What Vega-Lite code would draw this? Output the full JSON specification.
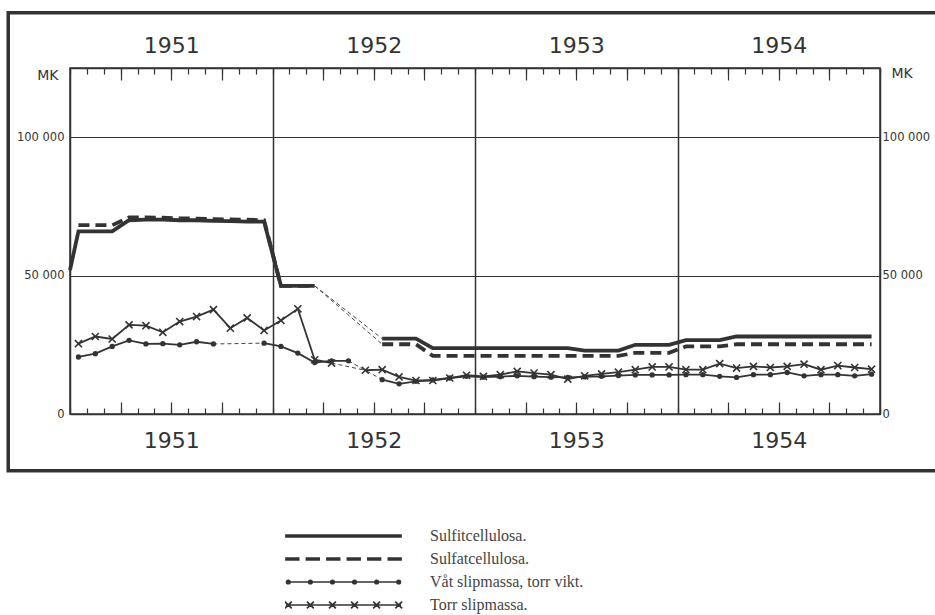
{
  "$schema": "https://vega.github.io/schema/vega-lite/v6.json",
  "width": 810,
  "height": 346,
  "autosize": {"type": "none"},
  "padding": {"left": 70, "top": 68, "right": 55, "bottom": 201},
  "background": "white",
  "config": {
    "view": {"stroke": "#333", "strokeWidth": 1.5},
    "axis": {"labelFont": "DejaVu Sans", "labelColor": "#333", "titleFont": "DejaVu Sans", "titleColor": "#333", "titleFontWeight": "normal", "domainColor": "#333", "domainWidth": 1.5}
  },
  "datasets": {
    "pulp": [
      {"serie": "Sulfitcellulosa.", "seg": "s1", "kind": "main", "month": 0, "value": 52000},
      {"serie": "Sulfitcellulosa.", "seg": "s1", "kind": "main", "month": 0.5, "value": 66000},
      {"serie": "Sulfitcellulosa.", "seg": "s1", "kind": "main", "month": 1.5, "value": 66000},
      {"serie": "Sulfitcellulosa.", "seg": "s1", "kind": "main", "month": 2.5, "value": 66000},
      {"serie": "Sulfitcellulosa.", "seg": "s1", "kind": "main", "month": 3.5, "value": 70000},
      {"serie": "Sulfitcellulosa.", "seg": "s1", "kind": "main", "month": 4.5, "value": 70200},
      {"serie": "Sulfitcellulosa.", "seg": "s1", "kind": "main", "month": 5.5, "value": 70200},
      {"serie": "Sulfitcellulosa.", "seg": "s1", "kind": "main", "month": 6.5, "value": 70000},
      {"serie": "Sulfitcellulosa.", "seg": "s1", "kind": "main", "month": 7.5, "value": 70000},
      {"serie": "Sulfitcellulosa.", "seg": "s1", "kind": "main", "month": 8.5, "value": 69800},
      {"serie": "Sulfitcellulosa.", "seg": "s1", "kind": "main", "month": 9.5, "value": 69700},
      {"serie": "Sulfitcellulosa.", "seg": "s1", "kind": "main", "month": 10.5, "value": 69500},
      {"serie": "Sulfitcellulosa.", "seg": "s1", "kind": "main", "month": 11.5, "value": 69500},
      {"serie": "Sulfitcellulosa.", "seg": "s1", "kind": "main", "month": 12.5, "value": 46300},
      {"serie": "Sulfitcellulosa.", "seg": "s1", "kind": "main", "month": 13.5, "value": 46300},
      {"serie": "Sulfitcellulosa.", "seg": "s1", "kind": "main", "month": 14.5, "value": 46300},
      {"serie": "Sulfitcellulosa.", "seg": "sg", "kind": "gap", "month": 14.5, "value": 46300},
      {"serie": "Sulfitcellulosa.", "seg": "sg", "kind": "gap", "month": 18.5, "value": 27200},
      {"serie": "Sulfitcellulosa.", "seg": "s2", "kind": "main", "month": 18.5, "value": 27200},
      {"serie": "Sulfitcellulosa.", "seg": "s2", "kind": "main", "month": 19.5, "value": 27200},
      {"serie": "Sulfitcellulosa.", "seg": "s2", "kind": "main", "month": 20.5, "value": 27200},
      {"serie": "Sulfitcellulosa.", "seg": "s2", "kind": "main", "month": 21.5, "value": 23800},
      {"serie": "Sulfitcellulosa.", "seg": "s2", "kind": "main", "month": 22.5, "value": 23800},
      {"serie": "Sulfitcellulosa.", "seg": "s2", "kind": "main", "month": 23.5, "value": 23800},
      {"serie": "Sulfitcellulosa.", "seg": "s2", "kind": "main", "month": 24.5, "value": 23800},
      {"serie": "Sulfitcellulosa.", "seg": "s2", "kind": "main", "month": 25.5, "value": 23800},
      {"serie": "Sulfitcellulosa.", "seg": "s2", "kind": "main", "month": 26.5, "value": 23800},
      {"serie": "Sulfitcellulosa.", "seg": "s2", "kind": "main", "month": 27.5, "value": 23800},
      {"serie": "Sulfitcellulosa.", "seg": "s2", "kind": "main", "month": 28.5, "value": 23800},
      {"serie": "Sulfitcellulosa.", "seg": "s2", "kind": "main", "month": 29.5, "value": 23800},
      {"serie": "Sulfitcellulosa.", "seg": "s2", "kind": "main", "month": 30.5, "value": 22900},
      {"serie": "Sulfitcellulosa.", "seg": "s2", "kind": "main", "month": 31.5, "value": 22900},
      {"serie": "Sulfitcellulosa.", "seg": "s2", "kind": "main", "month": 32.5, "value": 22900},
      {"serie": "Sulfitcellulosa.", "seg": "s2", "kind": "main", "month": 33.5, "value": 25000},
      {"serie": "Sulfitcellulosa.", "seg": "s2", "kind": "main", "month": 34.5, "value": 25000},
      {"serie": "Sulfitcellulosa.", "seg": "s2", "kind": "main", "month": 35.5, "value": 25000},
      {"serie": "Sulfitcellulosa.", "seg": "s2", "kind": "main", "month": 36.5, "value": 26700},
      {"serie": "Sulfitcellulosa.", "seg": "s2", "kind": "main", "month": 37.5, "value": 26700},
      {"serie": "Sulfitcellulosa.", "seg": "s2", "kind": "main", "month": 38.5, "value": 26700},
      {"serie": "Sulfitcellulosa.", "seg": "s2", "kind": "main", "month": 39.5, "value": 28000},
      {"serie": "Sulfitcellulosa.", "seg": "s2", "kind": "main", "month": 40.5, "value": 28000},
      {"serie": "Sulfitcellulosa.", "seg": "s2", "kind": "main", "month": 41.5, "value": 28000},
      {"serie": "Sulfitcellulosa.", "seg": "s2", "kind": "main", "month": 42.5, "value": 28000},
      {"serie": "Sulfitcellulosa.", "seg": "s2", "kind": "main", "month": 43.5, "value": 28000},
      {"serie": "Sulfitcellulosa.", "seg": "s2", "kind": "main", "month": 44.5, "value": 28000},
      {"serie": "Sulfitcellulosa.", "seg": "s2", "kind": "main", "month": 45.5, "value": 28000},
      {"serie": "Sulfitcellulosa.", "seg": "s2", "kind": "main", "month": 46.5, "value": 28000},
      {"serie": "Sulfitcellulosa.", "seg": "s2", "kind": "main", "month": 47.5, "value": 28000},

      {"serie": "Sulfatcellulosa.", "seg": "f1", "kind": "main", "month": 0.5, "value": 68200},
      {"serie": "Sulfatcellulosa.", "seg": "f1", "kind": "main", "month": 1.5, "value": 68200},
      {"serie": "Sulfatcellulosa.", "seg": "f1", "kind": "main", "month": 2.5, "value": 68200},
      {"serie": "Sulfatcellulosa.", "seg": "f1", "kind": "main", "month": 3.5, "value": 71000},
      {"serie": "Sulfatcellulosa.", "seg": "f1", "kind": "main", "month": 4.5, "value": 71000},
      {"serie": "Sulfatcellulosa.", "seg": "f1", "kind": "main", "month": 5.5, "value": 70900},
      {"serie": "Sulfatcellulosa.", "seg": "f1", "kind": "main", "month": 6.5, "value": 70700},
      {"serie": "Sulfatcellulosa.", "seg": "f1", "kind": "main", "month": 7.5, "value": 70600},
      {"serie": "Sulfatcellulosa.", "seg": "f1", "kind": "main", "month": 8.5, "value": 70400},
      {"serie": "Sulfatcellulosa.", "seg": "f1", "kind": "main", "month": 9.5, "value": 70300},
      {"serie": "Sulfatcellulosa.", "seg": "f1", "kind": "main", "month": 10.5, "value": 70200},
      {"serie": "Sulfatcellulosa.", "seg": "f1", "kind": "main", "month": 11.5, "value": 70000},
      {"serie": "Sulfatcellulosa.", "seg": "f1", "kind": "main", "month": 12.5, "value": 46300},
      {"serie": "Sulfatcellulosa.", "seg": "f1", "kind": "main", "month": 13.5, "value": 46300},
      {"serie": "Sulfatcellulosa.", "seg": "f1", "kind": "main", "month": 14.5, "value": 46300},
      {"serie": "Sulfatcellulosa.", "seg": "fg", "kind": "gap", "month": 14.5, "value": 46300},
      {"serie": "Sulfatcellulosa.", "seg": "fg", "kind": "gap", "month": 18.5, "value": 25200},
      {"serie": "Sulfatcellulosa.", "seg": "f2", "kind": "main", "month": 18.5, "value": 25200},
      {"serie": "Sulfatcellulosa.", "seg": "f2", "kind": "main", "month": 19.5, "value": 25200},
      {"serie": "Sulfatcellulosa.", "seg": "f2", "kind": "main", "month": 20.5, "value": 25200},
      {"serie": "Sulfatcellulosa.", "seg": "f2", "kind": "main", "month": 21.5, "value": 21000},
      {"serie": "Sulfatcellulosa.", "seg": "f2", "kind": "main", "month": 22.5, "value": 21000},
      {"serie": "Sulfatcellulosa.", "seg": "f2", "kind": "main", "month": 23.5, "value": 21000},
      {"serie": "Sulfatcellulosa.", "seg": "f2", "kind": "main", "month": 24.5, "value": 21000},
      {"serie": "Sulfatcellulosa.", "seg": "f2", "kind": "main", "month": 25.5, "value": 21000},
      {"serie": "Sulfatcellulosa.", "seg": "f2", "kind": "main", "month": 26.5, "value": 21000},
      {"serie": "Sulfatcellulosa.", "seg": "f2", "kind": "main", "month": 27.5, "value": 21000},
      {"serie": "Sulfatcellulosa.", "seg": "f2", "kind": "main", "month": 28.5, "value": 21000},
      {"serie": "Sulfatcellulosa.", "seg": "f2", "kind": "main", "month": 29.5, "value": 21000},
      {"serie": "Sulfatcellulosa.", "seg": "f2", "kind": "main", "month": 30.5, "value": 21000},
      {"serie": "Sulfatcellulosa.", "seg": "f2", "kind": "main", "month": 31.5, "value": 21000},
      {"serie": "Sulfatcellulosa.", "seg": "f2", "kind": "main", "month": 32.5, "value": 21000},
      {"serie": "Sulfatcellulosa.", "seg": "f2", "kind": "main", "month": 33.5, "value": 22100},
      {"serie": "Sulfatcellulosa.", "seg": "f2", "kind": "main", "month": 34.5, "value": 22100},
      {"serie": "Sulfatcellulosa.", "seg": "f2", "kind": "main", "month": 35.5, "value": 22100},
      {"serie": "Sulfatcellulosa.", "seg": "f2", "kind": "main", "month": 36.5, "value": 24400},
      {"serie": "Sulfatcellulosa.", "seg": "f2", "kind": "main", "month": 37.5, "value": 24400},
      {"serie": "Sulfatcellulosa.", "seg": "f2", "kind": "main", "month": 38.5, "value": 24400},
      {"serie": "Sulfatcellulosa.", "seg": "f2", "kind": "main", "month": 39.5, "value": 25200},
      {"serie": "Sulfatcellulosa.", "seg": "f2", "kind": "main", "month": 40.5, "value": 25200},
      {"serie": "Sulfatcellulosa.", "seg": "f2", "kind": "main", "month": 41.5, "value": 25200},
      {"serie": "Sulfatcellulosa.", "seg": "f2", "kind": "main", "month": 42.5, "value": 25200},
      {"serie": "Sulfatcellulosa.", "seg": "f2", "kind": "main", "month": 43.5, "value": 25200},
      {"serie": "Sulfatcellulosa.", "seg": "f2", "kind": "main", "month": 44.5, "value": 25200},
      {"serie": "Sulfatcellulosa.", "seg": "f2", "kind": "main", "month": 45.5, "value": 25200},
      {"serie": "Sulfatcellulosa.", "seg": "f2", "kind": "main", "month": 46.5, "value": 25200},
      {"serie": "Sulfatcellulosa.", "seg": "f2", "kind": "main", "month": 47.5, "value": 25200},

      {"serie": "Torr slipmassa.", "seg": "t1", "kind": "main", "month": 0.5, "value": 25400},
      {"serie": "Torr slipmassa.", "seg": "t1", "kind": "main", "month": 1.5, "value": 28000},
      {"serie": "Torr slipmassa.", "seg": "t1", "kind": "main", "month": 2.5, "value": 27100},
      {"serie": "Torr slipmassa.", "seg": "t1", "kind": "main", "month": 3.5, "value": 32200},
      {"serie": "Torr slipmassa.", "seg": "t1", "kind": "main", "month": 4.5, "value": 31900},
      {"serie": "Torr slipmassa.", "seg": "t1", "kind": "main", "month": 5.5, "value": 29500},
      {"serie": "Torr slipmassa.", "seg": "t1", "kind": "main", "month": 6.5, "value": 33400},
      {"serie": "Torr slipmassa.", "seg": "t1", "kind": "main", "month": 7.5, "value": 35200},
      {"serie": "Torr slipmassa.", "seg": "t1", "kind": "main", "month": 8.5, "value": 37700},
      {"serie": "Torr slipmassa.", "seg": "t1", "kind": "main", "month": 9.5, "value": 31000},
      {"serie": "Torr slipmassa.", "seg": "t1", "kind": "main", "month": 10.5, "value": 34700},
      {"serie": "Torr slipmassa.", "seg": "t1", "kind": "main", "month": 11.5, "value": 30200},
      {"serie": "Torr slipmassa.", "seg": "t1", "kind": "main", "month": 12.5, "value": 33800},
      {"serie": "Torr slipmassa.", "seg": "t1", "kind": "main", "month": 13.5, "value": 38000},
      {"serie": "Torr slipmassa.", "seg": "t1", "kind": "main", "month": 14.5, "value": 19600},
      {"serie": "Torr slipmassa.", "seg": "t1", "kind": "main", "month": 15.5, "value": 18400},
      {"serie": "Torr slipmassa.", "seg": "tg", "kind": "gap", "month": 15.5, "value": 18400},
      {"serie": "Torr slipmassa.", "seg": "tg", "kind": "gap", "month": 17.5, "value": 15800},
      {"serie": "Torr slipmassa.", "seg": "t2", "kind": "main", "month": 17.5, "value": 15800},
      {"serie": "Torr slipmassa.", "seg": "t2", "kind": "main", "month": 18.5, "value": 16000},
      {"serie": "Torr slipmassa.", "seg": "t2", "kind": "main", "month": 19.5, "value": 13400},
      {"serie": "Torr slipmassa.", "seg": "t2", "kind": "main", "month": 20.5, "value": 12100},
      {"serie": "Torr slipmassa.", "seg": "t2", "kind": "main", "month": 21.5, "value": 12100},
      {"serie": "Torr slipmassa.", "seg": "t2", "kind": "main", "month": 22.5, "value": 13000},
      {"serie": "Torr slipmassa.", "seg": "t2", "kind": "main", "month": 23.5, "value": 14000},
      {"serie": "Torr slipmassa.", "seg": "t2", "kind": "main", "month": 24.5, "value": 13600},
      {"serie": "Torr slipmassa.", "seg": "t2", "kind": "main", "month": 25.5, "value": 14200},
      {"serie": "Torr slipmassa.", "seg": "t2", "kind": "main", "month": 26.5, "value": 15400},
      {"serie": "Torr slipmassa.", "seg": "t2", "kind": "main", "month": 27.5, "value": 14800},
      {"serie": "Torr slipmassa.", "seg": "t2", "kind": "main", "month": 28.5, "value": 14200},
      {"serie": "Torr slipmassa.", "seg": "t2", "kind": "main", "month": 29.5, "value": 12600},
      {"serie": "Torr slipmassa.", "seg": "t2", "kind": "main", "month": 30.5, "value": 13800},
      {"serie": "Torr slipmassa.", "seg": "t2", "kind": "main", "month": 31.5, "value": 14500},
      {"serie": "Torr slipmassa.", "seg": "t2", "kind": "main", "month": 32.5, "value": 15100},
      {"serie": "Torr slipmassa.", "seg": "t2", "kind": "main", "month": 33.5, "value": 16000},
      {"serie": "Torr slipmassa.", "seg": "t2", "kind": "main", "month": 34.5, "value": 17000},
      {"serie": "Torr slipmassa.", "seg": "t2", "kind": "main", "month": 35.5, "value": 17000},
      {"serie": "Torr slipmassa.", "seg": "t2", "kind": "main", "month": 36.5, "value": 16000},
      {"serie": "Torr slipmassa.", "seg": "t2", "kind": "main", "month": 37.5, "value": 16000},
      {"serie": "Torr slipmassa.", "seg": "t2", "kind": "main", "month": 38.5, "value": 18200},
      {"serie": "Torr slipmassa.", "seg": "t2", "kind": "main", "month": 39.5, "value": 16600},
      {"serie": "Torr slipmassa.", "seg": "t2", "kind": "main", "month": 40.5, "value": 17200},
      {"serie": "Torr slipmassa.", "seg": "t2", "kind": "main", "month": 41.5, "value": 16800},
      {"serie": "Torr slipmassa.", "seg": "t2", "kind": "main", "month": 42.5, "value": 17200},
      {"serie": "Torr slipmassa.", "seg": "t2", "kind": "main", "month": 43.5, "value": 18000},
      {"serie": "Torr slipmassa.", "seg": "t2", "kind": "main", "month": 44.5, "value": 16000},
      {"serie": "Torr slipmassa.", "seg": "t2", "kind": "main", "month": 45.5, "value": 17500},
      {"serie": "Torr slipmassa.", "seg": "t2", "kind": "main", "month": 46.5, "value": 16800},
      {"serie": "Torr slipmassa.", "seg": "t2", "kind": "main", "month": 47.5, "value": 16200},

      {"serie": "Våt slipmassa, torr vikt.", "seg": "v1", "kind": "main", "month": 0.5, "value": 20600},
      {"serie": "Våt slipmassa, torr vikt.", "seg": "v1", "kind": "main", "month": 1.5, "value": 21800},
      {"serie": "Våt slipmassa, torr vikt.", "seg": "v1", "kind": "main", "month": 2.5, "value": 24400},
      {"serie": "Våt slipmassa, torr vikt.", "seg": "v1", "kind": "main", "month": 3.5, "value": 26600},
      {"serie": "Våt slipmassa, torr vikt.", "seg": "v1", "kind": "main", "month": 4.5, "value": 25300},
      {"serie": "Våt slipmassa, torr vikt.", "seg": "v1", "kind": "main", "month": 5.5, "value": 25400},
      {"serie": "Våt slipmassa, torr vikt.", "seg": "v1", "kind": "main", "month": 6.5, "value": 25000},
      {"serie": "Våt slipmassa, torr vikt.", "seg": "v1", "kind": "main", "month": 7.5, "value": 26100},
      {"serie": "Våt slipmassa, torr vikt.", "seg": "v1", "kind": "main", "month": 8.5, "value": 25300},
      {"serie": "Våt slipmassa, torr vikt.", "seg": "vg1", "kind": "gap", "month": 8.5, "value": 25300},
      {"serie": "Våt slipmassa, torr vikt.", "seg": "vg1", "kind": "gap", "month": 11.5, "value": 25600},
      {"serie": "Våt slipmassa, torr vikt.", "seg": "v2", "kind": "main", "month": 11.5, "value": 25600},
      {"serie": "Våt slipmassa, torr vikt.", "seg": "v2", "kind": "main", "month": 12.5, "value": 24400},
      {"serie": "Våt slipmassa, torr vikt.", "seg": "v2", "kind": "main", "month": 13.5, "value": 22000},
      {"serie": "Våt slipmassa, torr vikt.", "seg": "v2", "kind": "main", "month": 14.5, "value": 18600},
      {"serie": "Våt slipmassa, torr vikt.", "seg": "v2", "kind": "main", "month": 15.5, "value": 19200},
      {"serie": "Våt slipmassa, torr vikt.", "seg": "v2", "kind": "main", "month": 16.5, "value": 19200},
      {"serie": "Våt slipmassa, torr vikt.", "seg": "vg2", "kind": "gap", "month": 16.5, "value": 19200},
      {"serie": "Våt slipmassa, torr vikt.", "seg": "vg2", "kind": "gap", "month": 18.5, "value": 12400},
      {"serie": "Våt slipmassa, torr vikt.", "seg": "v3", "kind": "main", "month": 18.5, "value": 12400},
      {"serie": "Våt slipmassa, torr vikt.", "seg": "v3", "kind": "main", "month": 19.5, "value": 10900},
      {"serie": "Våt slipmassa, torr vikt.", "seg": "v3", "kind": "main", "month": 20.5, "value": 11800},
      {"serie": "Våt slipmassa, torr vikt.", "seg": "v3", "kind": "main", "month": 21.5, "value": 12300},
      {"serie": "Våt slipmassa, torr vikt.", "seg": "v3", "kind": "main", "month": 22.5, "value": 13000},
      {"serie": "Våt slipmassa, torr vikt.", "seg": "v3", "kind": "main", "month": 23.5, "value": 13600},
      {"serie": "Våt slipmassa, torr vikt.", "seg": "v3", "kind": "main", "month": 24.5, "value": 13300},
      {"serie": "Våt slipmassa, torr vikt.", "seg": "v3", "kind": "main", "month": 25.5, "value": 13500},
      {"serie": "Våt slipmassa, torr vikt.", "seg": "v3", "kind": "main", "month": 26.5, "value": 13800},
      {"serie": "Våt slipmassa, torr vikt.", "seg": "v3", "kind": "main", "month": 27.5, "value": 13500},
      {"serie": "Våt slipmassa, torr vikt.", "seg": "v3", "kind": "main", "month": 28.5, "value": 13300},
      {"serie": "Våt slipmassa, torr vikt.", "seg": "v3", "kind": "main", "month": 29.5, "value": 13200},
      {"serie": "Våt slipmassa, torr vikt.", "seg": "v3", "kind": "main", "month": 30.5, "value": 13400},
      {"serie": "Våt slipmassa, torr vikt.", "seg": "v3", "kind": "main", "month": 31.5, "value": 13600},
      {"serie": "Våt slipmassa, torr vikt.", "seg": "v3", "kind": "main", "month": 32.5, "value": 13900},
      {"serie": "Våt slipmassa, torr vikt.", "seg": "v3", "kind": "main", "month": 33.5, "value": 14100},
      {"serie": "Våt slipmassa, torr vikt.", "seg": "v3", "kind": "main", "month": 34.5, "value": 14100},
      {"serie": "Våt slipmassa, torr vikt.", "seg": "v3", "kind": "main", "month": 35.5, "value": 14100},
      {"serie": "Våt slipmassa, torr vikt.", "seg": "v3", "kind": "main", "month": 36.5, "value": 14200},
      {"serie": "Våt slipmassa, torr vikt.", "seg": "v3", "kind": "main", "month": 37.5, "value": 14200},
      {"serie": "Våt slipmassa, torr vikt.", "seg": "v3", "kind": "main", "month": 38.5, "value": 13600},
      {"serie": "Våt slipmassa, torr vikt.", "seg": "v3", "kind": "main", "month": 39.5, "value": 13200},
      {"serie": "Våt slipmassa, torr vikt.", "seg": "v3", "kind": "main", "month": 40.5, "value": 14200},
      {"serie": "Våt slipmassa, torr vikt.", "seg": "v3", "kind": "main", "month": 41.5, "value": 14200},
      {"serie": "Våt slipmassa, torr vikt.", "seg": "v3", "kind": "main", "month": 42.5, "value": 15000},
      {"serie": "Våt slipmassa, torr vikt.", "seg": "v3", "kind": "main", "month": 43.5, "value": 13800},
      {"serie": "Våt slipmassa, torr vikt.", "seg": "v3", "kind": "main", "month": 44.5, "value": 14200},
      {"serie": "Våt slipmassa, torr vikt.", "seg": "v3", "kind": "main", "month": 45.5, "value": 14200},
      {"serie": "Våt slipmassa, torr vikt.", "seg": "v3", "kind": "main", "month": 46.5, "value": 13800},
      {"serie": "Våt slipmassa, torr vikt.", "seg": "v3", "kind": "main", "month": 47.5, "value": 14400}
    ]
  },
  "data": {"name": "pulp"},
  "layer": [
    {
      "data": {"values": [{"frame": "outer"}]},
      "mark": {"type": "rect", "filled": false, "stroke": "#333", "strokeWidth": 3.5},
      "encoding": {
        "x": {"datum": -3.66, "type": "quantitative", "scale": {"domain": [0, 48], "nice": false, "zero": false}, "axis": null},
        "x2": {"datum": 53},
        "y": {"datum": 145000, "type": "quantitative", "scale": {"domain": [0, 125000], "nice": false, "zero": false}, "axis": null},
        "y2": {"datum": -20500}
      }
    },
    {
      "transform": [{"filter": "datum.serie == 'Sulfitcellulosa.' && datum.kind == 'main'"}],
      "mark": {"type": "line", "stroke": "#333", "strokeWidth": 3.8, "opacity": 1},
      "encoding": {
        "x": {"field": "month", "type": "quantitative", "scale": {"domain": [0, 48], "nice": false, "zero": false},
          "axis": {"orient": "top", "values": [0,1,2,3,4,5,6,7,8,9,10,11,12,13,14,15,16,17,18,19,20,21,22,23,24,25,26,27,28,29,30,31,32,33,34,35,36,37,38,39,40,41,42,43,44,45,46,47,48],
            "title": null, "domain": true, "tickColor": "#333", "tickWidth": 1.2, "tickSize": -6,
            "labelExpr": "datum.value % 12 == 6 ? toString(1951 + floor(datum.value / 12)) : ''",
            "labelOverlap": false, "labelFlush": false, "labelFontSize": 22, "labelPadding": 29, "labelBaseline": "middle",
            "grid": true, "gridColor": "#333", "gridWidth": 1.5,
            "gridOpacity": {"condition": {"test": "datum.value % 12 == 0 && datum.value > 0 && datum.value < 48", "value": 1}, "value": 0}}},
        "y": {"field": "value", "type": "quantitative", "scale": {"domain": [0, 125000], "nice": false, "zero": false},
          "axis": {"orient": "left", "values": [0, 50000, 100000], "grid": true, "gridColor": "#333", "gridWidth": 1.1,
            "ticks": false, "domain": true, "labelPadding": 6, "labelFontSize": 11.5,
            "labelExpr": "replace(format(datum.value, ','), ',', ' ')",
            "title": "MK", "titleAngle": 0, "titleX": -12, "titleY": 7, "titleAlign": "right", "titleBaseline": "middle", "titleFontSize": 14}},
        "detail": {"field": "seg"}
      }
    },
    {
      "transform": [{"filter": "datum.serie == 'Sulfatcellulosa.' && datum.kind == 'main'"}],
      "mark": {"type": "line", "stroke": "#333", "strokeWidth": 3.8, "strokeDash": [11, 6], "opacity": 1},
      "encoding": {
        "x": {"field": "month", "type": "quantitative", "scale": {"domain": [0, 48], "nice": false, "zero": false},
          "axis": {"orient": "bottom", "values": [0,1,2,3,4,5,6,7,8,9,10,11,12,13,14,15,16,17,18,19,20,21,22,23,24,25,26,27,28,29,30,31,32,33,34,35,36,37,38,39,40,41,42,43,44,45,46,47,48],
            "title": null, "domain": true, "tickColor": "#333", "tickWidth": 1.2, "tickSize": -6,
            "labelExpr": "datum.value % 12 == 6 ? toString(1951 + floor(datum.value / 12)) : ''",
            "labelOverlap": false, "labelFlush": false, "labelFontSize": 22, "labelPadding": 32, "labelBaseline": "middle",
            "grid": false}},
        "y": {"field": "value", "type": "quantitative", "scale": {"domain": [0, 125000], "nice": false, "zero": false},
          "axis": {"orient": "right", "values": [0, 50000, 100000], "grid": false,
            "ticks": false, "domain": true, "labelPadding": 2, "labelFontSize": 11.5,
            "labelExpr": "replace(format(datum.value, ','), ',', ' ')",
            "title": "MK", "titleAngle": 0, "titleX": 11, "titleY": 5, "titleAlign": "left", "titleBaseline": "middle", "titleFontSize": 14}},
        "detail": {"field": "seg"}
      }
    },
    {
      "transform": [{"filter": "datum.kind == 'gap'"}],
      "mark": {"type": "line", "stroke": "#444", "strokeWidth": 1, "strokeDash": [4, 3], "opacity": 1},
      "encoding": {
        "x": {"field": "month", "type": "quantitative", "scale": {"domain": [0, 48], "nice": false, "zero": false},
          "axis": {"orient": "top", "values": [3, 6, 9, 15, 18, 21, 27, 30, 33, 39, 42, 45], "title": null, "domain": false,
            "labels": false, "grid": false, "tickColor": "#333", "tickWidth": 1.2, "tickSize": -12}},
        "y": {"field": "value", "type": "quantitative", "scale": {"domain": [0, 125000], "nice": false, "zero": false}, "axis": null},
        "detail": {"field": "seg"}
      }
    },
    {
      "transform": [{"filter": "(datum.serie == 'Torr slipmassa.' || datum.serie == 'Våt slipmassa, torr vikt.') && datum.kind == 'main'"}],
      "mark": {"type": "line", "stroke": "#333", "strokeWidth": 1.8, "opacity": 1},
      "encoding": {
        "x": {"field": "month", "type": "quantitative", "scale": {"domain": [0, 48], "nice": false, "zero": false},
          "axis": {"orient": "bottom", "values": [3, 6, 9, 15, 18, 21, 27, 30, 33, 39, 42, 45], "title": null, "domain": false,
            "labels": false, "grid": false, "tickColor": "#333", "tickWidth": 1.2, "tickSize": -12}},
        "y": {"field": "value", "type": "quantitative", "scale": {"domain": [0, 125000], "nice": false, "zero": false}, "axis": null},
        "detail": {"field": "seg"}
      }
    },
    {
      "transform": [{"filter": "datum.serie == 'Våt slipmassa, torr vikt.' && datum.kind == 'main'"}],
      "mark": {"type": "circle", "color": "#333", "size": 28, "opacity": 1},
      "encoding": {
        "x": {"field": "month", "type": "quantitative", "scale": {"domain": [0, 48], "nice": false, "zero": false}, "axis": null},
        "y": {"field": "value", "type": "quantitative", "scale": {"domain": [0, 125000], "nice": false, "zero": false}, "axis": null}
      }
    },
    {
      "transform": [{"filter": "datum.serie == 'Torr slipmassa.' && datum.kind == 'main'"}],
      "mark": {"type": "point", "shape": "M-1,-1L1,1M-1,1L1,-1", "filled": false, "stroke": "#333", "strokeWidth": 1.6, "size": 50, "opacity": 1},
      "encoding": {
        "x": {"field": "month", "type": "quantitative", "scale": {"domain": [0, 48], "nice": false, "zero": false}, "axis": null},
        "y": {"field": "value", "type": "quantitative", "scale": {"domain": [0, 125000], "nice": false, "zero": false}, "axis": null}
      }
    },
    {
      "transform": [{"filter": "false"}],
      "mark": {"type": "point", "filled": true, "opacity": 1, "size": 13225, "color": "#333"},
      "encoding": {
        "shape": {"field": "serie", "type": "nominal",
          "scale": {"domain": ["Sulfitcellulosa.", "Sulfatcellulosa.", "Våt slipmassa, torr vikt.", "Torr slipmassa."],
            "range": [
              "M-1,-0.017L1,-0.017L1,0.017L-1,0.017Z",
              "M-1,-0.017L-0.78,-0.017L-0.78,0.017L-1,0.017ZM-0.644,-0.017L-0.424,-0.017L-0.424,0.017L-0.644,0.017ZM-0.288,-0.017L-0.068,-0.017L-0.068,0.017L-0.288,0.017ZM0.068,-0.017L0.288,-0.017L0.288,0.017L0.068,0.017ZM0.424,-0.017L0.644,-0.017L0.644,0.017L0.424,0.017ZM0.78,-0.017L1,-0.017L1,0.017L0.78,0.017Z",
              "M-1,0L1,0M-0.99,0a0.03,0.03 0 1,0 0.06,0a0.03,0.03 0 1,0 -0.06,0M-0.606,0a0.03,0.03 0 1,0 0.06,0a0.03,0.03 0 1,0 -0.06,0M-0.222,0a0.03,0.03 0 1,0 0.06,0a0.03,0.03 0 1,0 -0.06,0M0.162,0a0.03,0.03 0 1,0 0.06,0a0.03,0.03 0 1,0 -0.06,0M0.546,0a0.03,0.03 0 1,0 0.06,0a0.03,0.03 0 1,0 -0.06,0M0.93,0a0.03,0.03 0 1,0 0.06,0a0.03,0.03 0 1,0 -0.06,0",
              "M-1,0L1,0M-1.02,-0.06L-0.9,0.06M-1.02,0.06L-0.9,-0.06M-0.636,-0.06L-0.516,0.06M-0.636,0.06L-0.516,-0.06M-0.252,-0.06L-0.132,0.06M-0.252,0.06L-0.132,-0.06M0.132,-0.06L0.252,0.06M0.132,0.06L0.252,-0.06M0.516,-0.06L0.636,0.06M0.516,0.06L0.636,-0.06M0.9,-0.06L1.02,0.06M0.9,0.06L1.02,-0.06"
            ]},
          "legend": {"orient": "none", "legendX": 215, "legendY": 459, "title": null, "padding": 0,
            "symbolSize": 13225, "clipHeight": 18, "rowPadding": 5, "labelOffset": 28,
            "labelFont": "Liberation Serif", "labelFontSize": 16, "labelColor": "#444", "labelLimit": 0,
            "symbolStrokeWidth": 1.7, "symbolStrokeColor": "#333", "symbolFillColor": "#333"}
        },
        "stroke": {"field": "serie", "type": "nominal",
          "scale": {"domain": ["Sulfitcellulosa.", "Sulfatcellulosa.", "Våt slipmassa, torr vikt.", "Torr slipmassa."], "range": ["#333", "#333", "#333", "#333"]}}
      }
    }
  ],
  "resolve": {"axis": {"x": "independent", "y": "independent"}}
}
